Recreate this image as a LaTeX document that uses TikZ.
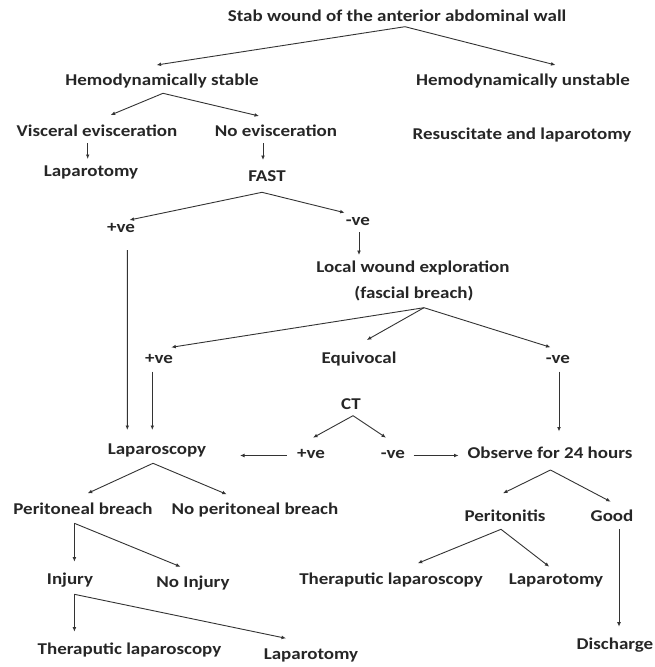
\documentclass[tikz,border=0pt]{standalone}
\usepackage{fontspec}
\setmainfont{Carlito}[FakeStretch=1.15]
\usetikzlibrary{arrows.meta,calc}
\tikzset{
  lbl/.style={inner sep=0pt, anchor=center, text=black!85, font=\fontsize{16.5}{18}\selectfont\bfseries, text height=0.75em, text depth=0.1em},
  arr/.style={draw=black!80, line width=0.9pt, -{Latex[length=4.5pt,width=3.8pt]}}
}
\begin{document}
\begin{tikzpicture}[x=1pt,y=-1pt]
\useasboundingbox[fill=white] (0,0) rectangle (655,667);
\node[lbl] (t) at (397,18.3) {Stab wound of the anterior abdominal wall};
\node[lbl] (hs) at (162,82) {Hemodynamically stable};
\node[lbl] (hu) at (523,82) {Hemodynamically unstable};
\node[lbl] (ve) at (97,133.3) {Visceral evisceration};
\node[lbl] (ne) at (276,133) {No evisceration};
\node[lbl] (rl) at (522,136.7) {Resuscitate and laparotomy};
\node[lbl] (lapa) at (91,173) {Laparotomy};
\node[lbl] (fast) at (267,178) {FAST};
\node[lbl] (fp) at (121,229) {+ve};
\node[lbl] (fn) at (358,222) {-ve};
\node[lbl] (lwe) at (413,269.3) {Local wound exploration};
\node[lbl] (fb) at (414,295) {(fascial breach)};
\node[lbl] (lp) at (159,360) {+ve};
\node[lbl] (eq) at (359,360) {Equivocal};
\node[lbl] (ln) at (558,360) {-ve};
\node[lbl] (ct) at (351,406.7) {CT};
\node[lbl] (lapsc) at (157,451) {Laparoscopy};
\node[lbl] (cp) at (311,455.5) {+ve};
\node[lbl] (cn) at (393,455.5) {-ve};
\node[lbl] (obs) at (550,455.5) {Observe for 24 hours};
\node[lbl] (pb) at (83,511.7) {Peritoneal breach};
\node[lbl] (npb) at (255,511.7) {No peritoneal breach};
\node[lbl] (per) at (505,518.3) {Peritonitis};
\node[lbl] (good) at (612,518) {Good};
\node[lbl] (inj) at (70,581.7) {Injury};
\node[lbl] (ninj) at (193,584.3) {No Injury};
\node[lbl] (tlb) at (391,581) {Theraputic laparoscopy};
\node[lbl] (lapc) at (556,581) {Laparotomy};
\node[lbl] (tla) at (129.5,651.7) {Theraputic laparoscopy};
\node[lbl] (lapb) at (311,656.7) {Laparotomy};
\node[lbl] (dis) at (615,646.7) {Discharge};
% connectors
\draw[arr] ($(t)+(8,8.4)$) -- ($(hs)+(-5.4,-17)$);
\draw[arr] ($(t)+(8,8.4)$) -- ($(hu)+(32.5,-17)$);
\draw[arr] ($(hs)+(1,11.3)$) -- ($(ve)+(13.7,-18.3)$);
\draw[arr] ($(hs)+(1,11.3)$) -- ($(ne)+(-17,-17)$);
\draw[arr] ($(ve)+(-9.3,9.7)$) -- ($(lapa)+(-3.3,-14)$);
\draw[arr] ($(ne)+(-13,10)$) -- ($(fast)+(-4,-18)$);
\draw[arr] ($(fast)+(-5,14.3)$) -- ($(fp)+(8.5,-9)$);
\draw[arr] ($(fast)+(-5,14.3)$) -- ($(fn)+(-13.4,-9.3)$);
\draw[arr] ($(fp)+(6.4,21)$) -- ($(lapsc)+(-29.7,-21)$);
\draw[arr] ($(fn)+(1,10)$) -- ($(lwe)+(-54,-14.3)$);
\draw[arr] ($(fb)+(10,12.7)$) -- ($(lp)+(12.3,-12.7)$);
\draw[arr] ($(fb)+(10,12.7)$) -- ($(eq)+(7.8,-20)$);
\draw[arr] ($(fb)+(10,12.7)$) -- ($(ln)+(-7.5,-12.7)$);
\draw[arr] ($(lp)+(-6.7,11.7)$) -- ($(lapsc)+(-4.7,-21)$);
\draw[arr] ($(ln)+(1,11.7)$) -- ($(obs)+(9,-24)$);
\draw[arr] ($(ct)+(2,9)$) -- ($(cp)+(2,-17.8)$);
\draw[arr] ($(ct)+(2,9)$) -- ($(cn)+(-7,-17.8)$);
\draw[arr] ($(cp)+(-24.3,0)$) -- ($(lapsc)+(83,4.5)$);
\draw[arr] ($(cn)+(20.5,0)$) -- ($(obs)+(-91.4,0)$);
\draw[arr] ($(lapsc)+(-4,12.3)$) -- ($(pb)+(4.7,-18.4)$);
\draw[arr] ($(lapsc)+(-4,12.3)$) -- ($(npb)+(-28.3,-17.4)$);
\draw[arr] ($(obs)+(0.5,14.5)$) -- ($(per)+(-2,-25)$);
\draw[arr] ($(obs)+(0.5,14.5)$) -- ($(good)+(-1.3,-16.3)$);
\draw[arr] ($(pb)+(-8.6,11.6)$) -- ($(inj)+(4.4,-20)$);
\draw[arr] ($(pb)+(-8.6,11.6)$) -- ($(ninj)+(-12.5,-17.6)$);
\draw[arr] ($(per)+(-4,11)$) -- ($(tlb)+(26.7,-17.7)$);
\draw[arr] ($(per)+(-4,11)$) -- ($(lapc)+(-6.7,-14.3)$);
\draw[arr] ($(good)+(7,11.3)$) -- ($(dis)+(4,-20)$);
\draw[arr] ($(inj)+(4.4,12.6)$) -- ($(tla)+(-55.1,-20)$);
\draw[arr] ($(inj)+(4.4,12.6)$) -- ($(lapb)+(-25,-18.4)$);
\end{tikzpicture}
\end{document}
